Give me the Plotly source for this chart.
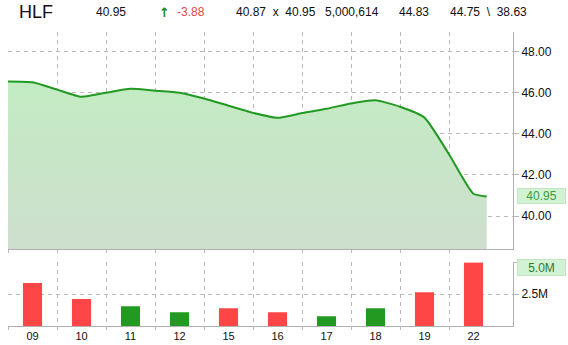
import plotly.graph_objects as go

# ---- data ----
days = ["09", "10", "11", "12", "15", "16", "17", "18", "19", "22"]
volume = [3.39e6, 2.13e6, 1.55e6, 1.08e6, 1.40e6, 1.08e6, 0.77e6, 1.40e6, 2.66e6, 5.000614e6]
vol_up = [False, False, True, True, False, False, True, True, False, False]

price_pos = [-0.5, 0, 0.5, 1, 1.5, 2, 2.5, 3, 3.5, 4, 4.5, 5, 5.5, 6, 6.5, 7, 7.5, 8, 8.5, 9, 9.27]
price_val = [46.54, 46.50, 46.14, 45.79, 45.99, 46.18, 46.09, 45.99, 45.71, 45.36, 45.01,
             44.77, 45.00, 45.21, 45.47, 45.62, 45.31, 44.78, 43.00, 41.08, 40.95]

price_ticks = [40, 42, 44, 46, 48]
vol_ticks = [2.5e6, 5.0e6]
vol_ticktext = ["2.5M", ""]

header = [  # (text, left px, colour, size, family)
    ("HLF", 18, "#111111", 18, None),
    ("40.95", 95, "#111111", 12, None),
    ("<b>↑</b>", 158, "#1e8a1e", 13, "DejaVu Sans"),
    ("-3.88", 176, "#e04848", 12, None),
    ("40.87  x  40.95", 235, "#111111", 12, None),
    ("5,000,614", 324, "#111111", 12, None),
    ("44.83", 398, "#111111", 12, None),
    ("44.75  \\  38.63", 449, "#111111", 12, None),
]
last_price = 40.95
last_vol_label = "5.0M"

# ---- figure ----
GRID = "#b9b9b9"
AXIS = "#b0b0b0"
FONT = "Liberation Sans, Arial, sans-serif"
L, R, T, B = 8, 55, 32, 19
W, H = 568, 345
n = len(days)
centers = list(range(n))
bounds = [i - 0.5 for i in range(n)]
xr = [-0.5, -0.5 + (W - L - R) / 49.0]

fig = go.Figure()
fig.add_trace(go.Scatter(
    x=price_pos, y=price_val, mode="lines",
    line=dict(color="#229a22", width=2, shape="spline", smoothing=0.5),
    fill="tozeroy",
    fillgradient=dict(type="vertical", start=38.38, stop=46.6,
                      colorscale=[[0, "rgb(205,222,205)"], [1, "rgb(195,236,195)"]]),
    xaxis="x", yaxis="y", hoverinfo="skip", showlegend=False))

fig.add_trace(go.Bar(
    x=centers, y=volume, width=0.39,
    marker=dict(color=["#229a22" if u else "#ff4646" for u in vol_up], line=dict(width=0)),
    xaxis="x2", yaxis="y2", hoverinfo="skip", showlegend=False))

plot_h = H - T - B
price_bottom = (H - B - 249.3) / plot_h
vol_top = (H - B - 262.3) / plot_h

common_x = dict(range=xr, showgrid=False, zeroline=False, showline=True, linecolor=AXIS,
                linewidth=1, tickmode="array", tickvals=centers, automargin=False,
                minor=dict(tickvals=bounds, showgrid=True, gridcolor=GRID, griddash="4px,4px",
                           gridwidth=1, ticks="outside", ticklen=3, tickcolor=GRID))

fig.update_layout(
    width=W, height=H, margin=dict(l=L, r=R, t=T, b=B, autoexpand=False),
    paper_bgcolor="white", plot_bgcolor="white",
    font=dict(family=FONT, size=12, color="#111111"),
    xaxis=dict(**common_x, domain=[0, 1], showticklabels=False, ticks="", anchor="y"),
    xaxis2=dict(**common_x, domain=[0, 1], ticktext=days, ticks="",
                tickfont=dict(size=11), anchor="y2"),
    yaxis=dict(domain=[price_bottom, 1], range=[38.383, 48.94], side="right",
               tickvals=price_ticks, ticktext=[f"{v:.2f}" for v in price_ticks],
               showgrid=True, gridcolor=GRID, griddash="4px,4px", zeroline=False,
               showline=True, linecolor=AXIS, ticks="outside", ticklen=5, tickcolor=GRID,
               anchor="x", tickfont=dict(size=12), automargin=False),
    yaxis2=dict(domain=[0, vol_top], range=[0, 5.01e6], side="right",
                tickvals=vol_ticks, ticktext=vol_ticktext,
                showgrid=True, gridcolor=GRID, griddash="4px,4px", zeroline=False,
                showline=True, linecolor=AXIS, ticks="outside", ticklen=5, tickcolor=GRID,
                anchor="x2", tickfont=dict(size=12), automargin=False),
)

ann = []
for text, px, col, size, fam in header:
    ann.append(dict(text=text, xref="paper", yref="paper",
                    x=(px - L) / (W - L - R), y=(H - B - 12.5) / plot_h,
                    xanchor="left", yanchor="middle", showarrow=False,
                    font=dict(family=fam or FONT, size=size, color=col), borderpad=0))
ann.append(dict(text=f"{last_price:.2f}", xref="paper", yref="y", x=1, y=last_price,
                xanchor="left", yanchor="middle", xshift=4, showarrow=False,
                width=47, height=14, align="center", bgcolor="#d3f1d3", bordercolor="#c2e6c2",
                borderwidth=1, borderpad=0, font=dict(family=FONT, size=12, color="#3a9e3a")))
ann.append(dict(text=last_vol_label, xref="paper", yref="y2", x=1, y=volume[-1],
                xanchor="left", yanchor="middle", xshift=4, yshift=-5, showarrow=False,
                width=47, height=15, align="center", bgcolor="#d3f1d3", bordercolor="#c2e6c2",
                borderwidth=1, borderpad=0, font=dict(family=FONT, size=12, color="#2f7a2f")))
fig.update_layout(annotations=ann)

fig.write_html("out.html")
